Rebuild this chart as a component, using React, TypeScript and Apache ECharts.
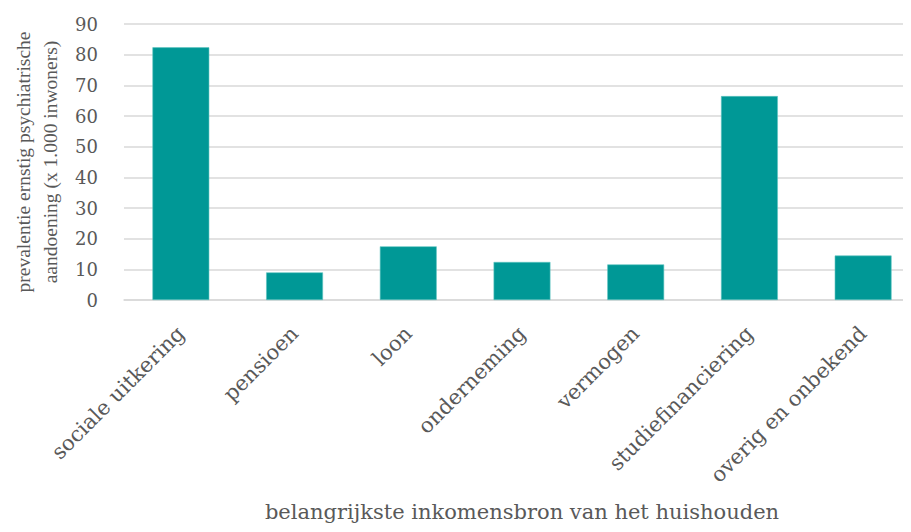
import React, { useEffect, useRef } from "react";
import * as echarts from "echarts";

const categories = [
  "sociale uitkering",
  "pensioen",
  "loon",
  "onderneming",
  "vermogen",
  "studiefinanciering",
  "overig en onbekend",
];
const values = [82.4, 9.0, 17.5, 12.4, 11.6, 66.5, 14.5];
const yAxisTitle = "prevalentie ernstig psychiatrische\naandoening (x 1.000 inwoners)";
const xAxisTitle = "belangrijkste inkomensbron van het huishouden";

const FONT = "DejaVu Serif";
const GRAY = "#595959";

export default function App() {
  const ref = useRef<HTMLDivElement>(null);
  useEffect(() => {
    if (!ref.current) return;
    const chart = echarts.init(ref.current, null, { renderer: "svg" });
    chart.setOption({
      animation: false,
      grid: { left: 116, right: -9, top: 16, bottom: 232, containLabel: false, outerBoundsMode: "none" },
      xAxis: {
        type: "category",
        data: categories,
        axisTick: { show: false },
        axisLine: { lineStyle: { color: "#d9d9d9", width: 1.5 } },
        axisLabel: {
          rotate: 45,
          interval: 0,
          margin: 30,
          color: GRAY,
          fontFamily: FONT,
          fontSize: 21,
        },
        name: xAxisTitle,
        nameLocation: "middle",
        nameGap: 201,
        nameTextStyle: { color: GRAY, fontFamily: FONT, fontSize: 21 },
      },
      yAxis: {
        type: "value",
        min: 0,
        max: 90,
        interval: 10,
        axisLine: { show: false },
        axisTick: { show: false },
        splitLine: { lineStyle: { color: "#d9d9d9", width: 1.5 } },
        axisLabel: { color: GRAY, fontFamily: FONT, fontSize: 18, margin: 26 },
        name: yAxisTitle,
        nameLocation: "middle",
        nameGap: 57,
        nameRotate: 90,
        nameTextStyle: { color: GRAY, fontFamily: "Liberation Serif", fontSize: 19.5, lineHeight: 27, align: "center" },
      },
      series: [
        {
          type: "bar",
          data: values,
          barCategoryGap: "50%",
          itemStyle: { color: "#009896", borderColor: "#5fc4c1", borderWidth: 0.6 },
        },
      ],
    });
    return () => chart.dispose();
  }, []);
  return <div ref={ref} style={{ width: 903, height: 524 }} />;
}
